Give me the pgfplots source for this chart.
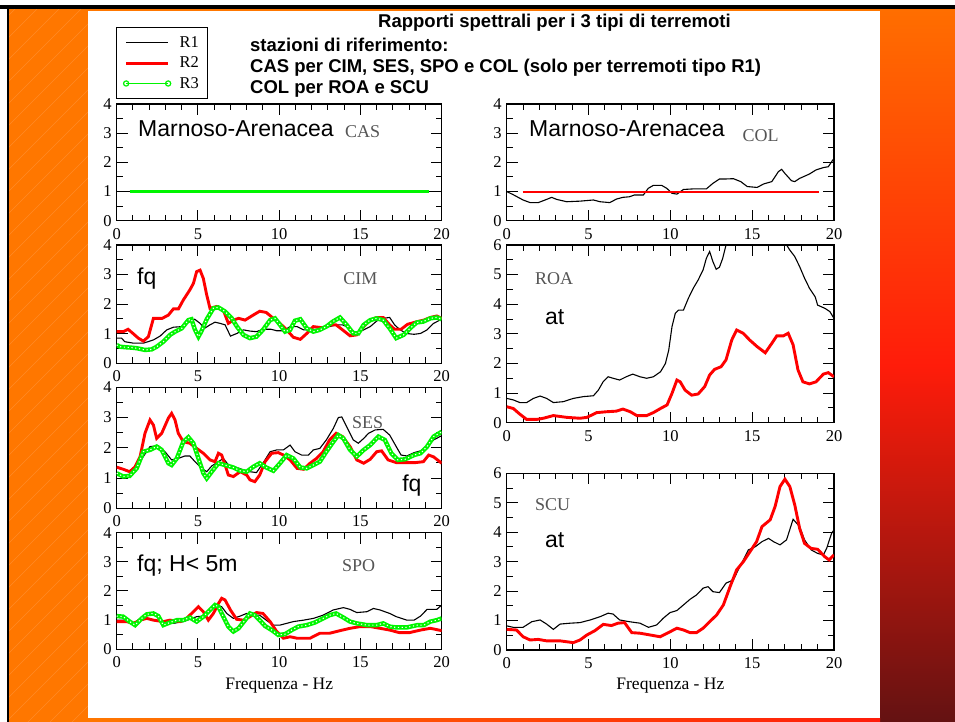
\documentclass[border=0pt]{standalone}
\usepackage{fontspec}
\setmainfont{Liberation Serif}
\newfontfamily\arial{Liberation Sans}
\usepackage{pgfplots}
\pgfplotsset{compat=1.18}
\definecolor{bgorange}{RGB}{255,119,0}
\definecolor{rtop}{RGB}{255,110,0}
\definecolor{rmid}{RGB}{255,28,10}
\definecolor{rbot}{RGB}{100,18,18}
\definecolor{lgreen}{RGB}{0,245,0}
\definecolor{stgray}{RGB}{85,85,85}
\tikzset{
  lab/.style={anchor=base west, inner sep=0pt, font=\arial\fontsize{23}{23}\selectfont},
  stn/.style={anchor=base west, inner sep=0pt, text=stgray, font=\fontsize{18}{18}\selectfont},
  ttl/.style={anchor=base west, inner sep=0pt, font=\arial\bfseries\fontsize{18.5}{20}\selectfont},
}
\pgfplotsset{
  panel/.style={
    scale only axis, anchor=south west,
    xmin=0, xmax=20, ymin=0, ymax=4,
    xtick={0,5,10,15,20}, ytick={0,1,2,3,4},
    minor x tick num=4, minor y tick num=1,
    tick align=inside,
    major tick length=11pt, minor tick length=6pt,
    axis line style={line width=1.2pt},
    every tick/.append style={line width=1pt, black},
    tick label style={font=\fontsize{16.5}{16.5}\selectfont},
    xticklabel style={yshift=-4pt},
    yticklabel style={xshift=-1.5pt},
    /pgf/number format/assume math mode=true,
    clip mode=individual,
    legend image code/.code={\draw[#1] plot coordinates {(0pt,0pt) (42pt,0pt)}; \path (50pt,0pt);},
  },
  tall/.style={ymax=6, ytick={0,1,2,3,4,5,6}},
  r1/.style={color=black, line width=1.1pt, no markers},
  r2/.style={color=red, line width=2.9pt, no markers},
  r3/.style={color=lgreen, line width=4.4pt, no markers,
     postaction={draw=white, line width=1.1pt, dash pattern=on 1.2pt off 2.6pt}},
  flatred/.style={color=red, line width=2pt, no markers},
  flatgreen/.style={color=lgreen, line width=2.1pt, no markers},
  xl/.style={xlabel={Frequenza - Hz}, xlabel style={font=\fontsize{17.5}{17.5}\selectfont, yshift=-3pt}},
}
\begin{document}
\begin{tikzpicture}
\useasboundingbox (0pt,0pt) rectangle (955pt,722pt);
% background
\fill[white] (0pt,0pt) rectangle (955pt,722pt);
\fill[bgorange] (9pt,0pt) rectangle (88pt,713pt);
\begin{scope}
\clip (9pt,0pt) rectangle (88pt,713pt);
\foreach \i in {-720,-698,...,90} {
  \draw[white, opacity=0.15, line width=0.5pt] (\i pt,0pt) -- ++(713pt,713pt);
}
\end{scope}
\fill[black] (7pt,0pt) rectangle (9pt,713pt);
\shade[top color=rtop, bottom color=rbot, middle color=rmid] (880pt,0pt) rectangle (955pt,713pt);
\shade[left color=bgorange, right color=rmid] (88pt,0pt) rectangle (880pt,3pt);
\fill[bgorange] (88pt,711pt) rectangle (880pt,713pt);
\fill[black] (0pt,713pt) rectangle (955pt,717pt);
% titles
\node[ttl] at (378pt,694pt) {Rapporti spettrali per i 3 tipi di terremoti};
\node[ttl] at (250pt,670.5pt) {stazioni di riferimento:};
\node[ttl] at (250pt,649.5pt) {CAS per CIM, SES, SPO e COL (solo per terremoti tipo R1)};
\node[ttl] at (250pt,628.5pt) {COL per ROA e SCU};

% ---------- CAS ----------
\begin{axis}[panel, at={(116.7pt,501.3pt)}, width=325pt, height=116.7pt,
  legend style={at={(-0.002,1.66)}, anchor=north west, draw=black, line width=1pt,
    font=\fontsize{16.5}{17}\selectfont, legend cell align=left, row sep=4pt, inner xsep=7pt, inner ysep=7pt}]
\addlegendimage{color=black, line width=1.1pt}
\addlegendimage{color=red, line width=2.9pt}
\addlegendimage{color=lgreen, line width=1.3pt, mark=o, mark size=2.6pt, mark options={line width=1.2pt}}
\legend{R1,R2,R3}
\addplot[r1, forget plot] coordinates {(0,1) (20,1)};
\addplot[flatred, forget plot] coordinates {(0.8,1) (19.2,1)};
\addplot[flatgreen, forget plot] coordinates {(0.8,1) (19.2,1)};
\node[lab] at (axis cs:1.31,2.90) {Marnoso-Arenacea};
\node[stn] at (axis cs:14.05,2.84) {CAS};
\end{axis}

% ---------- CIM ----------
\begin{axis}[panel, at={(116.7pt,358.7pt)}, width=325pt, height=118.3pt]
\addplot[r1] coordinates {(0,0.85)(0.3,0.85)(0.5,0.73)(1.03,0.68)(1.64,0.68)(2.26,0.79)(2.67,0.92)(3.08,1.13)(3.49,1.22)(4.0,1.24)(4.5,1.41)(4.8,1.49)(5.13,1.35)(5.4,1.18)(5.74,1.3)(6.05,1.39)(6.36,1.35)(6.67,1.3)(7.0,0.92)(7.4,1.01)(7.8,1.13)(8.2,1.09)(8.6,1.07)(9.0,1.15)(9.5,1.15)(9.85,1.1)(10.26,1.1)(10.67,1.24)(11.1,1.24)(11.5,1.13)(11.9,1.13)(12.3,1.15)(12.7,1.2)(13.1,1.24)(13.5,1.3)(13.9,1.3)(14.36,1.18)(14.77,1.01)(15.2,1.13)(15.6,1.24)(16.0,1.43)(16.4,1.52)(16.8,1.55)(17.1,1.3)(17.4,1.15)(17.8,1.01)(18.3,0.98)(18.7,1.01)(19.1,1.13)(19.5,1.35)(20,1.49)};
\addplot[r2] coordinates {(0,1.07)(0.4,1.07)(0.7,1.15)(1.0,1.01)(1.33,0.85)(1.64,0.75)(1.95,0.9)(2.26,1.52)(2.46,1.52)(2.8,1.52)(3.18,1.63)(3.49,1.84)(3.8,1.84)(4.1,2.14)(4.5,2.48)(4.72,2.7)(4.92,3.1)(5.13,3.15)(5.33,2.87)(5.54,2.31)(5.74,1.86)(6.15,1.92)(6.56,1.8)(6.87,1.35)(7.18,1.46)(7.5,1.52)(7.9,1.46)(8.4,1.63)(8.8,1.76)(9.2,1.72)(9.64,1.52)(10.05,1.35)(10.46,1.13)(10.87,0.88)(11.3,0.81)(11.7,1.01)(12.1,1.24)(12.7,1.2)(13.1,1.3)(13.5,1.3)(13.9,1.13)(14.36,0.93)(14.77,0.96)(15.2,1.24)(15.6,1.46)(16.0,1.55)(16.4,1.55)(16.8,1.3)(17.1,1.15)(17.5,1.15)(17.9,1.32)(18.5,1.41)(18.9,1.46)(19.3,1.55)(19.7,1.6)(20,1.52)};
\addplot[r3] coordinates {(0,0.62)(0.2,0.56)(0.6,0.54)(0.9,0.53)(1.23,0.51)(1.5,0.48)(1.74,0.45)(2.15,0.47)(2.46,0.56)(2.87,0.73)(3.28,0.96)(3.6,1.07)(4.0,1.18)(4.41,1.46)(4.6,1.49)(4.82,1.13)(5.03,0.9)(5.2,1.07)(5.54,1.49)(5.95,1.86)(6.25,1.89)(6.67,1.75)(7.08,1.52)(7.4,1.24)(7.8,0.96)(8.2,0.85)(8.6,0.9)(9.0,1.13)(9.44,1.46)(9.74,1.52)(10.05,1.3)(10.36,1.07)(10.67,1.13)(10.97,1.44)(11.3,1.49)(11.7,1.18)(12.1,1.07)(12.5,1.13)(12.9,1.24)(13.3,1.41)(13.74,1.55)(14.15,1.3)(14.56,1.01)(14.87,1.01)(15.2,1.3)(15.6,1.46)(16.0,1.52)(16.4,1.46)(16.8,1.18)(17.2,0.85)(17.65,0.96)(18.05,1.18)(18.46,1.38)(18.87,1.41)(19.3,1.52)(19.7,1.55)(20,1.49)};
\node[lab] at (axis cs:1.25,2.65) {fq};
\node[stn] at (axis cs:13.93,2.65) {CIM};
\end{axis}

% ---------- SES ----------
\begin{axis}[panel, at={(116.7pt,213.7pt)}, width=325pt, height=121pt]
\addplot[r1] coordinates {(0,1.16)(0.4,1.02)(0.8,1.02)(1.23,1.37)(1.64,1.71)(2.05,2.04)(2.56,2.07)(2.97,1.87)(3.38,1.6)(3.79,1.65)(4.2,1.73)(4.5,1.73)(4.82,1.54)(5.23,1.32)(5.54,1.21)(5.85,1.4)(6.26,1.54)(6.56,1.65)(6.97,1.37)(7.38,1.35)(7.8,1.27)(8.2,1.21)(8.6,1.18)(9.0,1.49)(9.44,1.87)(9.85,1.93)(10.26,1.93)(10.67,2.09)(10.97,1.87)(11.38,1.76)(11.8,1.76)(12.1,1.93)(12.5,1.98)(12.9,2.26)(13.33,2.64)(13.64,3.0)(13.85,3.02)(14.15,2.7)(14.56,2.26)(14.87,2.15)(15.2,2.31)(15.5,2.48)(15.9,2.59)(16.4,2.61)(16.8,2.42)(17.2,2.04)(17.5,1.76)(17.85,1.73)(18.3,1.84)(18.7,1.9)(19.1,2.04)(19.5,2.26)(20,2.4)};
\addplot[r2] coordinates {(0,1.36)(0.4,1.29)(0.8,1.21)(1.13,1.37)(1.44,1.71)(1.74,2.48)(2.05,2.92)(2.26,2.75)(2.46,2.31)(2.77,2.48)(3.18,2.98)(3.38,3.14)(3.59,2.92)(3.79,2.48)(4.1,2.2)(4.5,2.15)(4.92,1.98)(5.33,1.82)(5.74,1.6)(6.05,1.54)(6.26,1.82)(6.46,1.76)(6.67,1.43)(6.87,1.1)(7.18,1.05)(7.6,1.21)(8.0,1.1)(8.2,0.94)(8.5,0.88)(8.8,1.1)(9.13,1.54)(9.54,1.82)(9.95,1.84)(10.26,1.76)(10.67,1.6)(11.1,1.32)(11.5,1.29)(11.9,1.49)(12.3,1.65)(12.7,1.87)(13.1,2.26)(13.5,2.48)(13.9,2.37)(14.36,2.04)(14.77,1.6)(15.2,1.49)(15.6,1.62)(16.0,1.87)(16.3,1.9)(16.7,1.6)(17.2,1.51)(17.85,1.51)(18.36,1.51)(18.87,1.54)(19.2,1.76)(19.5,1.7)(20,1.49)};
\addplot[r3] coordinates {(0,1.16)(0.4,1.05)(0.8,1.07)(1.23,1.32)(1.64,1.87)(2.05,1.93)(2.46,2.04)(2.77,1.93)(3.18,1.49)(3.38,1.43)(3.7,1.65)(4.1,2.2)(4.41,2.35)(4.72,2.15)(5.03,1.65)(5.33,1.16)(5.54,0.99)(5.85,1.21)(6.26,1.49)(6.67,1.43)(7.18,1.35)(7.6,1.24)(8.0,1.21)(8.4,1.37)(8.8,1.49)(9.2,1.35)(9.64,1.24)(10.05,1.49)(10.46,1.76)(10.87,1.65)(11.3,1.35)(11.7,1.32)(12.1,1.43)(12.5,1.54)(12.9,1.87)(13.33,2.2)(13.64,2.42)(13.95,2.31)(14.36,1.93)(14.77,1.71)(15.2,1.93)(15.6,2.09)(16.1,2.37)(16.5,2.26)(16.9,1.82)(17.3,1.6)(17.75,1.62)(18.3,1.76)(18.7,1.82)(19.1,2.04)(19.5,2.37)(20,2.53)};
\node[stn] at (axis cs:14.48,2.64) {SES};
\node[lab] at (axis cs:17.56,0.55) {fq};
\end{axis}

% ---------- SPO ----------
\begin{axis}[panel, xl, at={(116.7pt,72.7pt)}, width=325pt, height=116.6pt]
\addplot[r1] coordinates {(0,1.0)(0.6,1.0)(1.03,0.89)(1.44,1.06)(1.85,1.06)(2.26,1.0)(2.87,0.95)(3.49,0.89)(4.1,0.95)(4.5,1.03)(4.92,1.12)(5.33,1.14)(5.74,1.35)(6.15,1.52)(6.46,1.46)(6.77,1.23)(7.18,1.06)(7.6,1.14)(8.0,1.23)(8.4,1.17)(8.8,1.17)(9.2,1.0)(9.64,0.83)(10.05,0.83)(10.46,0.89)(10.87,0.95)(11.5,1.0)(12.1,1.06)(12.7,1.17)(13.33,1.35)(13.95,1.43)(14.36,1.37)(14.77,1.26)(15.4,1.29)(15.8,1.4)(16.2,1.35)(16.8,1.23)(17.2,1.12)(17.85,1.0)(18.3,1.0)(18.7,1.14)(19.1,1.37)(19.7,1.37)(20,1.52)};
\addplot[r2] coordinates {(0,0.95)(0.6,0.95)(1.03,0.89)(1.44,1.0)(1.85,1.06)(2.26,1.0)(2.87,0.95)(3.28,1.0)(3.9,0.95)(4.3,1.06)(4.72,1.29)(5.03,1.46)(5.33,1.29)(5.64,1.0)(5.95,1.23)(6.26,1.57)(6.46,1.75)(6.67,1.69)(7.0,1.35)(7.38,1.03)(7.8,1.0)(8.2,1.12)(8.6,1.26)(9.0,1.23)(9.44,0.95)(9.85,0.61)(10.26,0.38)(10.67,0.43)(11.1,0.38)(11.9,0.38)(12.5,0.55)(13.1,0.55)(13.74,0.64)(14.36,0.72)(15.0,0.78)(15.6,0.78)(16.2,0.72)(16.8,0.66)(17.4,0.57)(18.0,0.57)(18.7,0.66)(19.3,0.72)(20,0.64)};
\addplot[r3] coordinates {(0,1.14)(0.4,1.12)(0.8,0.95)(1.13,0.83)(1.54,1.06)(1.85,1.2)(2.26,1.23)(2.56,1.14)(2.87,0.83)(3.28,0.92)(3.7,1.0)(4.1,1.0)(4.5,1.09)(4.92,0.95)(5.33,1.12)(5.74,1.35)(6.05,1.52)(6.26,1.46)(6.56,1.12)(6.87,0.78)(7.18,0.61)(7.5,0.72)(7.9,1.0)(8.2,1.23)(8.5,1.17)(8.8,1.0)(9.13,0.8)(9.54,0.66)(9.95,0.49)(10.36,0.52)(10.77,0.66)(11.18,0.78)(11.7,0.83)(12.2,0.92)(12.7,1.06)(13.1,1.17)(13.5,1.23)(13.95,1.09)(14.36,0.95)(14.77,0.89)(15.4,0.83)(16.0,0.83)(16.4,0.89)(16.8,0.78)(17.2,0.75)(17.85,0.75)(18.5,0.83)(18.9,0.83)(19.3,0.95)(19.7,1.0)(20,1.06)};
\node[lab] at (axis cs:1.25,2.66) {fq; H< 5m};
\node[stn] at (axis cs:13.86,2.66) {SPO};
\end{axis}

% ---------- COL ----------
\begin{axis}[panel, at={(506.7pt,501.3pt)}, width=327.3pt, height=116.7pt]
\addplot[r1] coordinates {(0,1.0)(0.4,0.89)(1.0,0.71)(1.43,0.62)(1.93,0.62)(2.44,0.73)(2.75,0.8)(3.05,0.73)(3.67,0.65)(4.48,0.67)(5.3,0.71)(5.7,0.65)(6.3,0.62)(6.7,0.74)(7.1,0.8)(7.5,0.82)(7.8,0.88)(8.35,0.88)(8.65,1.11)(8.96,1.21)(9.47,1.21)(9.78,1.11)(10.1,0.94)(10.4,0.91)(10.8,1.07)(11.4,1.09)(12.2,1.09)(12.6,1.28)(13.0,1.43)(13.4,1.43)(13.85,1.44)(14.3,1.34)(14.7,1.17)(15.3,1.14)(15.7,1.26)(16.2,1.34)(16.6,1.68)(16.8,1.76)(17.0,1.62)(17.4,1.37)(17.6,1.34)(17.9,1.45)(18.5,1.6)(18.9,1.74)(19.35,1.82)(19.65,1.85)(20,2.14)};
\addplot[flatred] coordinates {(0.98,1) (19.1,1)};
\node[lab] at (axis cs:1.36,2.90) {Marnoso-Arenacea};
\node[stn] at (axis cs:14.4,2.71) {COL};
\end{axis}

% ---------- ROA ----------
\begin{axis}[panel, tall, at={(506.7pt,299.3pt)}, width=327.3pt, height=177.7pt]
\addplot[r1] coordinates {(0,0.82)(0.4,0.77)(0.8,0.68)(1.22,0.68)(1.63,0.82)(2.04,0.9)(2.44,0.82)(2.85,0.68)(3.46,0.71)(4.07,0.82)(4.68,0.88)(5.3,0.91)(5.6,1.1)(5.9,1.39)(6.2,1.55)(6.5,1.5)(6.9,1.44)(7.3,1.55)(7.7,1.64)(8.15,1.55)(8.55,1.5)(8.96,1.55)(9.4,1.72)(9.7,2.0)(9.9,2.45)(10.1,3.24)(10.3,3.69)(10.5,3.8)(10.8,3.8)(11.1,4.2)(11.4,4.54)(11.7,4.82)(12.0,5.16)(12.2,5.55)(12.4,5.78)(12.6,5.44)(12.8,5.18)(13.0,5.25)(13.2,5.55)(13.4,6.0)(13.7,6.8)(14.5,7.5)(15.5,7.8)(16.5,7.0)(17.0,6.2)(17.1,6.0)(17.3,5.83)(17.6,5.61)(17.9,5.27)(18.2,4.88)(18.5,4.54)(18.85,4.25)(19.0,3.97)(19.45,3.86)(19.75,3.75)(20,3.52)};
\addplot[r2] coordinates {(0,0.54)(0.4,0.48)(0.8,0.29)(1.22,0.11)(1.83,0.11)(2.24,0.15)(2.85,0.24)(3.67,0.18)(4.48,0.15)(4.9,0.18)(5.5,0.34)(6.1,0.37)(6.7,0.39)(7.1,0.46)(7.55,0.37)(7.95,0.24)(8.55,0.24)(8.96,0.34)(9.4,0.48)(9.8,0.6)(10.1,0.99)(10.4,1.44)(10.6,1.38)(10.9,1.1)(11.3,0.93)(11.7,0.97)(12.1,1.22)(12.4,1.61)(12.7,1.8)(13.1,1.89)(13.4,2.12)(13.75,2.79)(14.05,3.13)(14.45,3.02)(14.85,2.79)(15.3,2.57)(15.8,2.36)(16.2,2.68)(16.5,2.93)(16.9,2.93)(17.2,3.02)(17.5,2.63)(17.8,1.78)(18.1,1.38)(18.5,1.31)(18.9,1.38)(19.35,1.64)(19.65,1.69)(20,1.55)};
\node[stn] at (axis cs:1.73,4.67) {ROA};
\node[lab] at (axis cs:2.34,3.32) {at};
\end{axis}

% ---------- SCU ----------
\begin{axis}[panel, tall, xl, at={(506.7pt,72pt)}, width=327.3pt, height=176.7pt]
\addplot[r1] coordinates {(0,0.82)(0.4,0.77)(1.0,0.77)(1.53,0.96)(2.04,1.02)(2.44,0.88)(2.85,0.7)(3.26,0.88)(3.87,0.91)(4.48,0.93)(5.1,1.02)(5.7,1.13)(6.2,1.25)(6.5,1.22)(6.9,1.02)(7.5,0.96)(8.15,0.91)(8.66,0.77)(9.16,0.85)(9.57,1.08)(9.98,1.27)(10.4,1.34)(10.8,1.53)(11.2,1.72)(11.6,1.87)(12.0,2.1)(12.3,2.15)(12.6,1.98)(13.0,1.95)(13.4,2.27)(13.85,2.38)(14.15,2.72)(14.46,3.06)(14.77,3.4)(15.2,3.51)(15.6,3.68)(16.0,3.79)(16.3,3.68)(16.7,3.57)(17.1,3.74)(17.5,4.44)(17.9,4.19)(18.2,3.74)(18.6,3.4)(19.0,3.28)(19.35,3.23)(19.55,3.45)(19.85,3.96)(20,4.08)};
\addplot[r2] coordinates {(0,0.7)(0.6,0.68)(1.0,0.45)(1.43,0.34)(1.93,0.36)(2.44,0.31)(3.26,0.31)(4.07,0.25)(4.48,0.34)(4.9,0.51)(5.4,0.66)(5.9,0.87)(6.4,0.83)(6.8,0.91)(7.2,0.93)(7.64,0.59)(8.15,0.57)(8.76,0.51)(9.37,0.45)(9.88,0.59)(10.4,0.74)(10.8,0.68)(11.2,0.59)(11.6,0.59)(12.0,0.74)(12.4,0.96)(12.83,1.19)(13.24,1.53)(13.65,2.15)(14.05,2.72)(14.46,3.0)(14.87,3.34)(15.27,3.68)(15.6,4.19)(16.1,4.42)(16.4,4.87)(16.7,5.55)(17.0,5.8)(17.3,5.55)(17.6,4.93)(17.9,4.13)(18.2,3.62)(18.6,3.45)(19.0,3.42)(19.43,3.17)(19.7,3.06)(20,3.23)};
\node[stn] at (axis cs:1.73,4.73) {SCU};
\node[lab] at (axis cs:2.34,3.49) {at};
\end{axis}
\end{tikzpicture}
\end{document}
